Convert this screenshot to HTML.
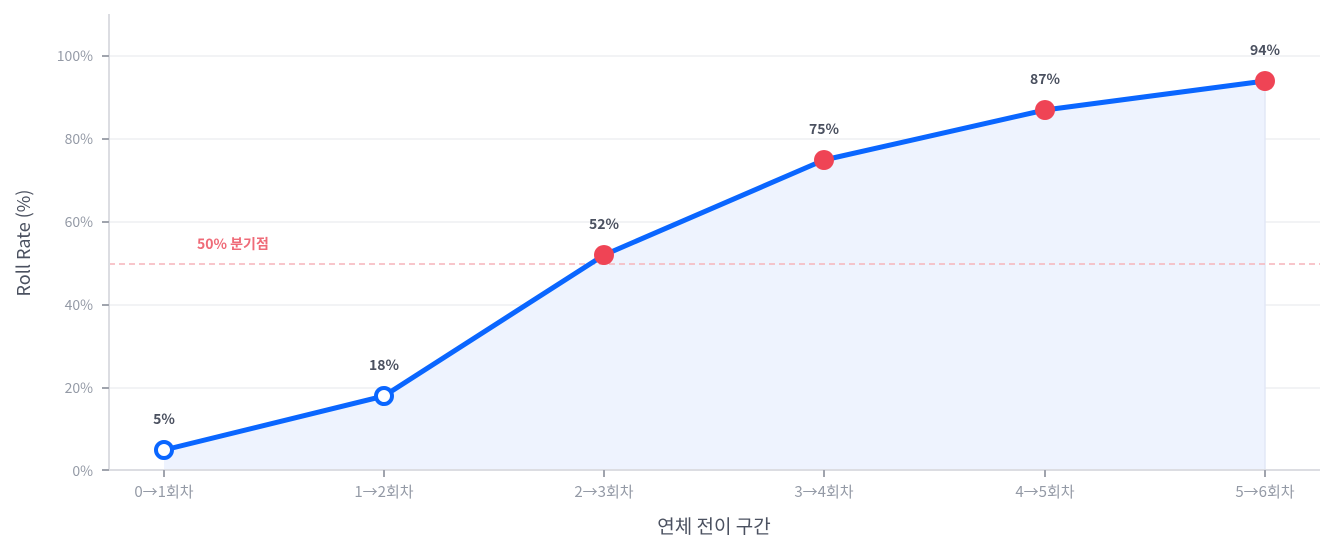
<!DOCTYPE html>
<html><head><meta charset="utf-8"><style>
html,body{margin:0;padding:0;background:#fff;}
svg{display:block;font-family:"Noto Sans CJK KR","Liberation Sans",sans-serif;}
</style></head><body>
<svg width="1335" height="555" viewBox="0 0 1335 555" xmlns="http://www.w3.org/2000/svg">
<g stroke="#eeeff2" stroke-width="1.5">
<line x1="109" x2="1320" y1="56" y2="56"/>
<line x1="109" x2="1320" y1="139" y2="139"/>
<line x1="109" x2="1320" y1="222" y2="222"/>
<line x1="109" x2="1320" y1="305" y2="305"/>
<line x1="109" x2="1320" y1="388" y2="388"/>
</g>
<polygon points="164,450 384,396 604,255 824,160 1045,110 1265,81 1265,470 164,470" fill="#eef3fe"/>
<line x1="1265" y1="81" x2="1265" y2="470" stroke="#e2e8f6" stroke-width="1.5"/>
<line x1="109" x2="1320" y1="264" y2="264" stroke="#f6b4ba" stroke-width="1.5" stroke-dasharray="6,4"/>
<text x="197" y="249" font-size="14" font-weight="bold" fill="#ef6b78">50% 분기점</text>
<g stroke="#dcdde2" stroke-width="2">
<line x1="109" y1="14" x2="109" y2="471"/>
<line x1="108" y1="470" x2="1320" y2="470"/>
</g>
<g stroke="#a0a4ad" stroke-width="2">
<line x1="102" x2="109" y1="56" y2="56"/><line x1="102" x2="109" y1="139" y2="139"/>
<line x1="102" x2="109" y1="222" y2="222"/><line x1="102" x2="109" y1="305" y2="305"/>
<line x1="102" x2="109" y1="388" y2="388"/><line x1="102" x2="109" y1="470" y2="470"/>
<line x1="164" x2="164" y1="470" y2="477"/><line x1="384" x2="384" y1="470" y2="477"/>
<line x1="604" x2="604" y1="470" y2="477"/><line x1="824" x2="824" y1="470" y2="477"/>
<line x1="1045" x2="1045" y1="470" y2="477"/><line x1="1265" x2="1265" y1="470" y2="477"/>
</g>
<g font-size="14" fill="#949aa6" text-anchor="end">
<text x="93" y="61">100%</text><text x="93" y="144">80%</text><text x="93" y="227">60%</text>
<text x="93" y="310">40%</text><text x="93" y="393">20%</text><text x="93" y="476">0%</text>
</g>
<g font-size="15" fill="#949aa6" text-anchor="middle">
<text x="164" y="497">0→1회차</text><text x="384" y="497">1→2회차</text><text x="604" y="497">2→3회차</text>
<text x="824" y="497">3→4회차</text><text x="1045" y="497">4→5회차</text><text x="1265" y="497">5→6회차</text>
</g>
<text x="714" y="533" font-size="19" fill="#4b5160" text-anchor="middle">연체 전이 구간</text>
<text transform="translate(30,243) rotate(-90)" font-size="18" fill="#4b5160" text-anchor="middle">Roll Rate (%)</text>
<polyline points="164,450 384,396 604,255 824,160 1045,110 1265,81" fill="none" stroke="#0a66ff" stroke-width="5" stroke-linejoin="round"/>
<circle cx="164" cy="450" r="8" fill="#fff" stroke="#0a66ff" stroke-width="4"/>
<circle cx="384" cy="396" r="8" fill="#fff" stroke="#0a66ff" stroke-width="4"/>
<g fill="#ef4455">
<circle cx="604" cy="255" r="10"/><circle cx="824" cy="160" r="10"/>
<circle cx="1045" cy="110" r="10"/><circle cx="1265" cy="81" r="10"/>
</g>
<g font-size="14" font-weight="bold" fill="#4b5160" text-anchor="middle">
<text x="164" y="424">5%</text><text x="384" y="370">18%</text><text x="604" y="229">52%</text>
<text x="824" y="134">75%</text><text x="1045" y="84">87%</text><text x="1265" y="55">94%</text>
</g>
</svg>
</body></html>
